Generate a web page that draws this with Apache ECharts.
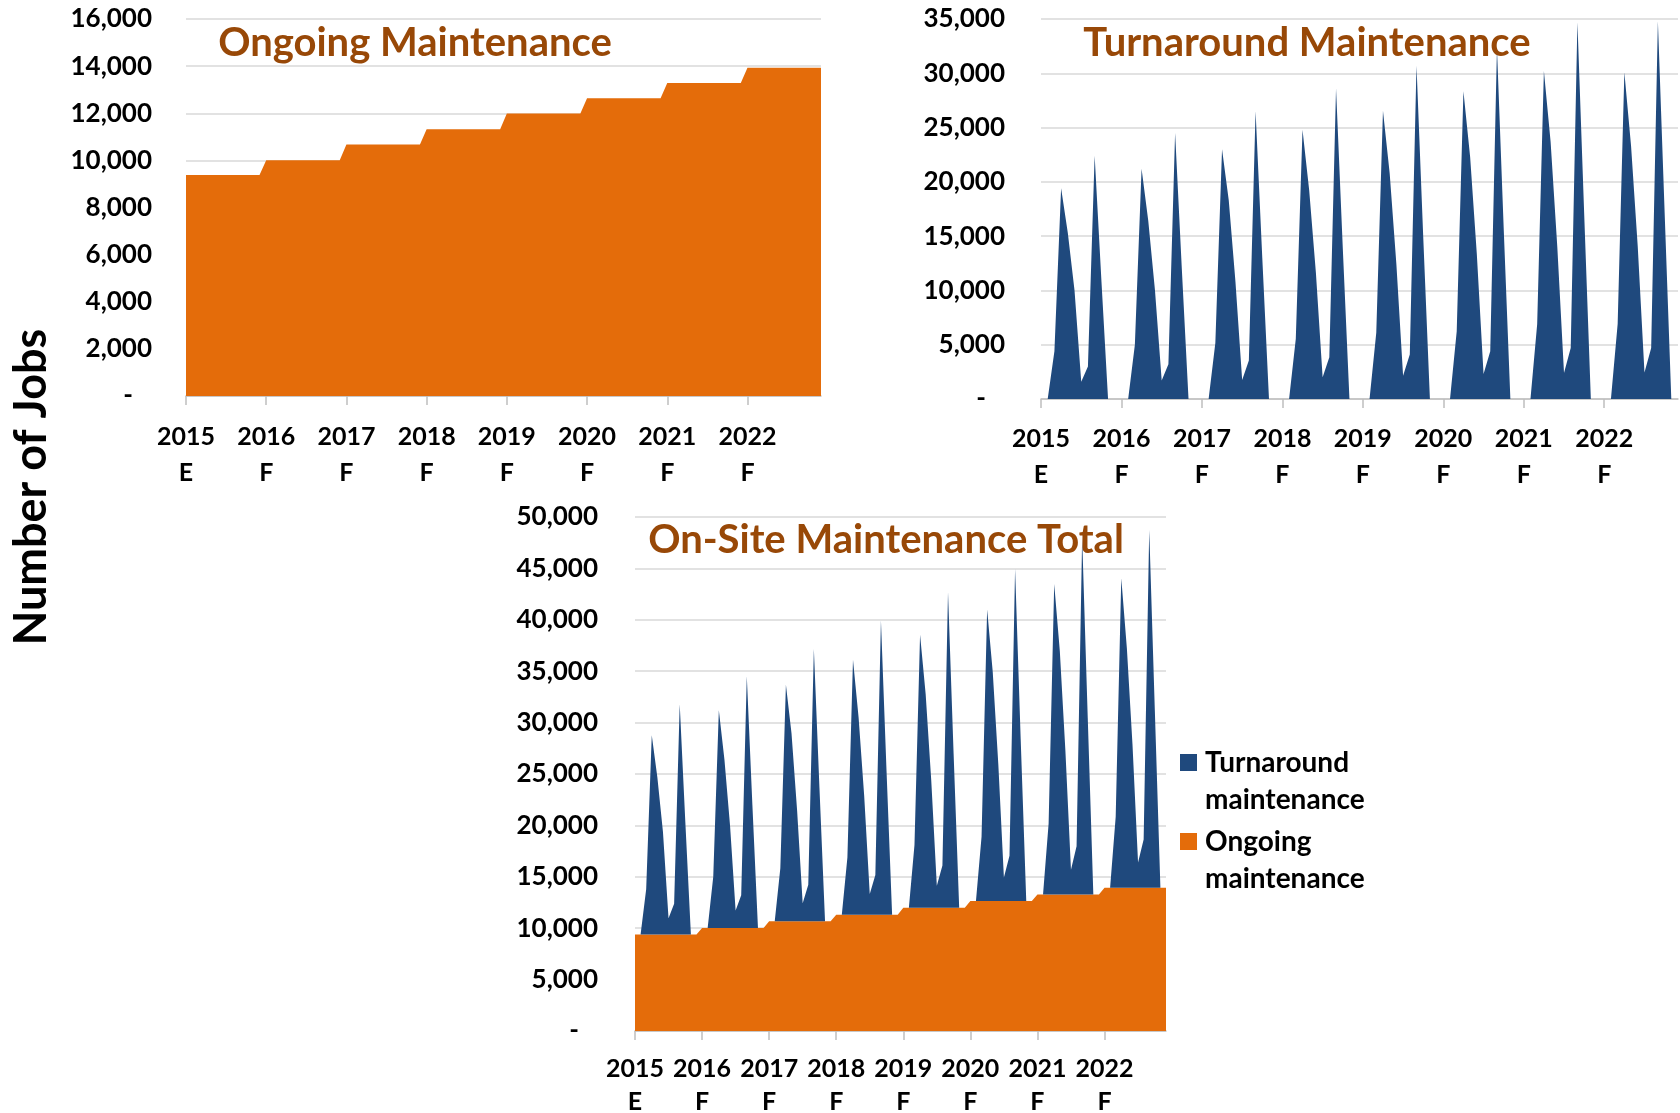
<!DOCTYPE html>
<html>
<head>
<meta charset="utf-8">
<title>Number of Jobs - Maintenance</title>
<script src="https://cdn.jsdelivr.net/npm/echarts@6/dist/echarts.min.js"></script>
<style>
	html, body { margin: 0; padding: 0; background: #fff; }
	#main { width: 1680px; height: 1113px; }
</style>
</head>
<body>
<div id="main"></div>
<script>
var years = ['2015', '2016', '2017', '2018', '2019', '2020', '2021', '2022'];
var yearTags = ['E', 'F', 'F', 'F', 'F', 'F', 'F', 'F'];
var monthNames = ['Jan', 'Feb', 'Mar', 'Apr', 'May', 'Jun', 'Jul', 'Aug', 'Sep', 'Oct', 'Nov', 'Dec'];

// ongoing maintenance jobs, month by month (flat inside each year)
var ongoing = [
	9380, 9380, 9380, 9380, 9380, 9380, 9380, 9380, 9380, 9380, 9380, 9380,
	10010, 10010, 10010, 10010, 10010, 10010, 10010, 10010, 10010, 10010, 10010, 10010,
	10670, 10670, 10670, 10670, 10670, 10670, 10670, 10670, 10670, 10670, 10670, 10670,
	11320, 11320, 11320, 11320, 11320, 11320, 11320, 11320, 11320, 11320, 11320, 11320,
	11990, 11990, 11990, 11990, 11990, 11990, 11990, 11990, 11990, 11990, 11990, 11990,
	12640, 12640, 12640, 12640, 12640, 12640, 12640, 12640, 12640, 12640, 12640, 12640,
	13280, 13280, 13280, 13280, 13280, 13280, 13280, 13280, 13280, 13280, 13280, 13280,
	13930, 13930, 13930, 13930, 13930, 13930, 13930, 13930, 13930, 13930, 13930, 13930
];

// turnaround maintenance jobs, month by month
var turnaround = [
	0, 0, 4400, 19400, 15300, 10000, 1600, 3000, 22400, 11000, 0, 0,
	0, 0, 5000, 21200, 16400, 10000, 1700, 3200, 24500, 12000, 0, 0,
	0, 0, 5150, 23000, 18300, 10800, 1750, 3550, 26500, 13000, 0, 0,
	0, 0, 5550, 24800, 19200, 11600, 2000, 3850, 28600, 14000, 0, 0,
	0, 0, 6100, 26550, 20800, 12400, 2150, 4100, 30700, 15000, 0, 0,
	0, 0, 6250, 28350, 22300, 13300, 2300, 4400, 32300, 15800, 0, 0,
	0, 0, 6900, 30200, 23700, 14000, 2400, 4700, 34700, 17200, 0, 0,
	0, 0, 6900, 30100, 23300, 14000, 2450, 4700, 34800, 17300, 0, 0
];

var months = [];
years.forEach(function (y) {
	monthNames.forEach(function (m) { months.push(m + ' ' + y); });
});

var ORANGE = '#e46c0a';
var BLUE = '#1f497d';
var BROWN = '#984807';
var FONT = 'Lato';

function yearTick(i) { return i % 12 === 0; }

function xAxisFor(grid, fontSize, lineHeight, margin) {
	return {
		type: 'category',
		gridIndex: grid,
		data: months,
		boundaryGap: false,
		axisLine: { lineStyle: { color: '#bfbfbf', width: 1.5 } },
		axisTick: { interval: yearTick, length: 9, lineStyle: { color: '#bfbfbf', width: 1.5 } },
		axisLabel: {
			interval: yearTick,
			margin: margin,
			color: '#000',
			fontFamily: FONT,
			fontWeight: 'bold',
			fontSize: fontSize,
			lineHeight: lineHeight,
			formatter: function (v, i) {
				var k = Math.floor(i / 12);
				return years[k] + '\n' + yearTags[k];
			}
		},
		splitLine: { show: false }
	};
}

function yAxisFor(grid, max, interval, margin) {
	return {
		type: 'value',
		gridIndex: grid,
		min: 0,
		max: max,
		interval: interval,
		axisLine: { show: false },
		axisTick: { show: false },
		splitLine: { lineStyle: { color: '#d9d9d9', width: 1.5 } },
		axisLabel: {
			margin: margin,
			color: '#000',
			fontFamily: FONT,
			fontWeight: 'bold',
			fontSize: 26,
			formatter: function (v) {
				return v === 0 ? '-   ' : v.toLocaleString('en-US');
			}
		}
	};
}

function titleFor(text, x, y) {
	return {
		text: text,
		left: x,
		top: y,
		textAlign: 'center',
		padding: 0,
		textStyle: { color: BROWN, fontFamily: FONT, fontWeight: 'bold', fontSize: 40 }
	};
}

var myChart = echarts.init(document.getElementById('main'));

var option = {
	backgroundColor: '#fff',
	animation: false,
	title: [
		titleFor('Ongoing Maintenance', 415, 23),
		titleFor('Turnaround Maintenance', 1307, 23),
		titleFor('On-Site Maintenance Total', 886, 520)
	],
	graphic: [{
		type: 'text',
		x: 31,
		y: 487,
		rotation: Math.PI / 2,
		style: {
			text: 'Number of Jobs',
			fill: '#000',
			font: 'bold 45px Lato',
			align: 'center',
			verticalAlign: 'middle'
		}
	}],
	legend: {
		data: ['Turnaround maintenance', 'Ongoing maintenance'],
		orient: 'vertical',
		left: 1180,
		top: 707,
		padding: 0,
		itemGap: -32,
		itemWidth: 17,
		itemHeight: 17,
		icon: 'rect',
		// empty first line so the square sits next to the first line of text
		formatter: function (name) { return '\n' + name.replace(' ', '\n'); },
		textStyle: {
			color: '#000',
			fontFamily: FONT,
			fontWeight: 'bold',
			fontSize: 28,
			lineHeight: 37,
			padding: [0, 0, 0, 3]
		}
	},
	grid: [
		{ left: 186, top: 19, width: 635, height: 377, outerBoundsMode: 'none' },
		{ left: 1041, top: 19, width: 637, height: 380, outerBoundsMode: 'none' },
		{ left: 635, top: 517, width: 531, height: 514, outerBoundsMode: 'none' }
	],
	xAxis: [
		xAxisFor(0, 25, 36, 23),
		xAxisFor(1, 25, 36, 22),
		xAxisFor(2, 25, 33, 21)
	],
	yAxis: [
		yAxisFor(0, 16000, 2000, 34),
		yAxisFor(1, 35000, 5000, 36),
		yAxisFor(2, 50000, 5000, 37)
	],
	series: [
		{
			name: 'Ongoing',
			type: 'line',
			xAxisIndex: 0,
			yAxisIndex: 0,
			data: ongoing,
			symbol: 'none',
			color: ORANGE,
			lineStyle: { width: 0 },
			areaStyle: { color: ORANGE, opacity: 1 }
		},
		{
			name: 'Turnaround',
			type: 'line',
			xAxisIndex: 1,
			yAxisIndex: 1,
			data: turnaround,
			symbol: 'none',
			color: BLUE,
			lineStyle: { width: 0 },
			areaStyle: { color: BLUE, opacity: 1 }
		},
		{
			name: 'Ongoing maintenance',
			type: 'line',
			xAxisIndex: 2,
			yAxisIndex: 2,
			stack: 'total',
			data: ongoing,
			symbol: 'none',
			color: ORANGE,
			lineStyle: { width: 0 },
			areaStyle: { color: ORANGE, opacity: 1 }
		},
		{
			name: 'Turnaround maintenance',
			type: 'line',
			xAxisIndex: 2,
			yAxisIndex: 2,
			stack: 'total',
			data: turnaround,
			symbol: 'none',
			color: BLUE,
			lineStyle: { width: 0 },
			areaStyle: { color: BLUE, opacity: 1 }
		}
	]
};

myChart.setOption(option);
</script>
</body>
</html>
